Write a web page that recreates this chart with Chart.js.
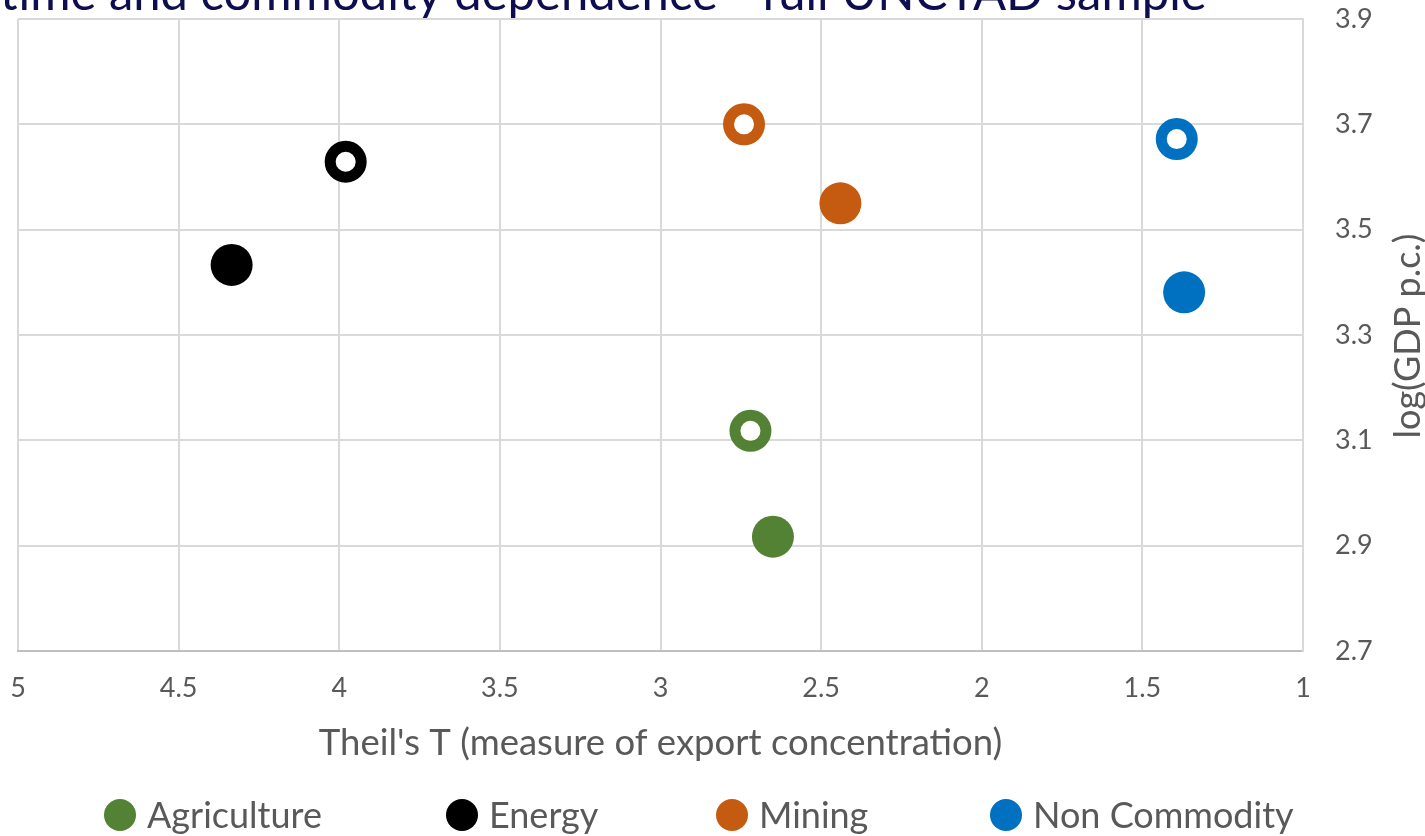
<!DOCTYPE html>
<html>
<head>
<meta charset="utf-8">
<script src="https://cdn.jsdelivr.net/npm/chart.js@4.4.1/dist/chart.umd.min.js"></script>
<style>
  html, body { margin: 0; padding: 0; background: #ffffff; overflow: hidden; }
  #wrap { position: relative; width: 1425px; height: 836px; }
</style>
</head>
<body>
<div id="wrap"><canvas id="c" width="1425" height="836"></canvas></div>
<script>
// Export concentration (Theil's T) against log GDP per capita, by export group.
const categories = ['Agriculture', 'Energy', 'Mining', 'Non Commodity'];
const colors = ['#548235', '#000000', '#C55A11', '#0070C0'];
// solid markers
const theilSolid = [2.65, 4.335, 2.44, 1.37];
const gdpSolid = [2.917, 3.433, 3.55, 3.381];
// ring markers
const theilRing = [2.72, 3.98, 2.74, 1.393];
const gdpRing = [3.118, 3.629, 3.70, 3.672];
// axis ticks
const xTicks = [5, 4.5, 4, 3.5, 3, 2.5, 2, 1.5, 1];
const yTicks = [2.7, 2.9, 3.1, 3.3, 3.5, 3.7, 3.9];

const heading = 'time and commodity dependence - full UNCTAD sample';
const xTitle = "Theil's T (measure of export concentration)";
const yTitle = 'log(GDP p.c.)';

const FONT = 'Lato, "Open Sans", sans-serif';
const GREY = '#595959';
const GRID = '#d9d9d9';

const datasets = categories.map((name, i) => ({
  label: name,
  data: [
    { x: theilSolid[i], y: gdpSolid[i] },
    { x: theilRing[i], y: gdpRing[i] }
  ],
  pointStyle: 'circle',
  pointRadius: [21, 15.5],
  pointHoverRadius: [21, 15.5],
  pointBorderWidth: [0, 11],
  pointHoverBorderWidth: [0, 11],
  pointBackgroundColor: [colors[i], '#ffffff'],
  pointBorderColor: colors[i],
  showLine: false
}));

const noPadding = () => ({ left: 0, top: 0, right: 0, bottom: 0 });

// Heading, rotated y-axis title and the legend row
const overlay = {
  id: 'overlay',
  afterDraw(chart) {
    const ctx = chart.ctx;

    ctx.save();
    ctx.font = '49px ' + FONT;
    ctx.fillStyle = '#0D0D50';
    ctx.textAlign = 'left';
    ctx.textBaseline = 'alphabetic';
    ctx.fillText(heading, 0, 10);
    ctx.restore();

    ctx.save();
    ctx.font = '36px ' + FONT;
    ctx.fillStyle = GREY;
    ctx.translate(1408, 336);
    ctx.rotate(-Math.PI / 2);
    ctx.textAlign = 'center';
    ctx.textBaseline = 'middle';
    ctx.fillText(yTitle, 0, 0);
    ctx.restore();

    ctx.save();
    const centres = [120, 462, 732, 1006];
    const ly = 815;
    ctx.font = '36px ' + FONT;
    ctx.textAlign = 'left';
    ctx.textBaseline = 'middle';
    categories.forEach((name, i) => {
      ctx.beginPath();
      ctx.arc(centres[i], ly, 16, 0, Math.PI * 2);
      ctx.fillStyle = colors[i];
      ctx.fill();
      ctx.fillStyle = GREY;
      ctx.fillText(name, centres[i] + 27, ly + 1);
    });
    ctx.restore();
  }
};

new Chart(document.getElementById('c'), {
  type: 'scatter',
  data: { datasets },
  plugins: [overlay],
  options: {
    responsive: false,
    animation: false,
    events: [],
    devicePixelRatio: 1,
    layout: { autoPadding: false, padding: { left: 18, top: 19, right: 0, bottom: 70 } },
    plugins: {
      legend: { display: false },
      tooltip: { enabled: false },
      title: { display: false }
    },
    scales: {
      x: {
        type: 'linear',
        position: 'bottom',
        reverse: true,
        min: 1,
        max: 5,
        afterBuildTicks: s => { s.ticks = xTicks.map(v => ({ value: v })); },
        afterFit: s => {
          s.height = 115;
          s.paddingLeft = 0;
          s.paddingRight = 0;
          s.getPadding = noPadding;
        },
        grid: { color: GRID, lineWidth: 2, drawTicks: false },
        border: { color: '#bfbfbf', width: 2 },
        ticks: {
          font: { family: FONT, size: 27 },
          color: GREY,
          padding: 21,
          autoSkip: false,
          maxRotation: 0,
          callback: v => String(v)
        },
        title: {
          display: true,
          text: xTitle,
          font: { family: FONT, size: 36.5 },
          color: GREY,
          padding: { top: 0, bottom: 1 }
        }
      },
      y: {
        type: 'linear',
        position: 'right',
        min: 2.7,
        max: 3.9,
        afterBuildTicks: s => { s.ticks = yTicks.map(v => ({ value: v })); },
        afterFit: s => {
          s.width = 122;
          s.paddingTop = 0;
          s.paddingBottom = 0;
          s.getPadding = noPadding;
        },
        grid: { color: GRID, lineWidth: 2, drawTicks: false },
        border: { color: GRID, width: 2 },
        ticks: {
          font: { family: FONT, size: 27 },
          color: GREY,
          padding: 32,
          autoSkip: false,
          callback: v => String(v)
        }
      }
    }
  }
});
</script>
</body>
</html>
